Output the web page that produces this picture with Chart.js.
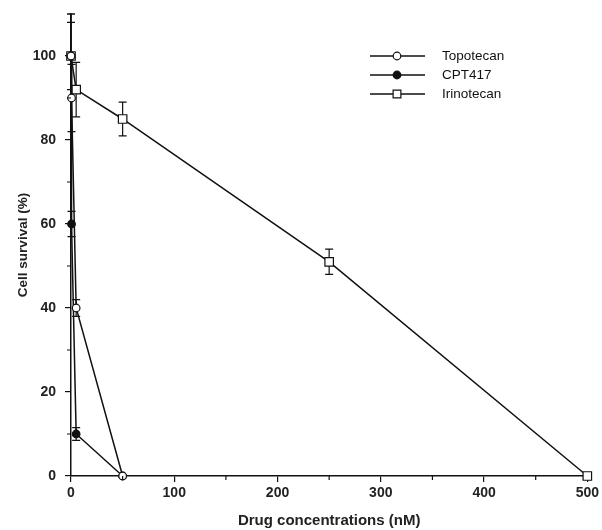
<!DOCTYPE html>
<html>
<head>
<meta charset="utf-8">
<script src="https://cdn.jsdelivr.net/npm/chart.js@4.4.1/dist/chart.umd.min.js"></script>
<style>
  html, body { margin: 0; padding: 0; background: #fff; }
  #wrap { width: 602px; height: 530px; }
</style>
</head>
<body>
<div id="wrap"><canvas id="chart" width="602" height="530"></canvas></div>
<script>
const seriesNames = ['Topotecan', 'CPT417', 'Irinotecan'];

const topoDose = [0, 0.5, 5, 50];
const topoSurvival = [100, 90, 40, 0];
const topoErr = [8, 8, 2, 0];

const cptDose = [0, 0.5, 5, 50];
const cptSurvival = [100, 60, 10, 0];
const cptErr = [10, 3, 1.5, 0];

const iriDose = [0, 5, 50, 250, 500];
const iriSurvival = [100, 92, 85, 51, 0];
const iriErr = [10, 6.5, 4, 3, 0];

const xTicks = [0, 100, 200, 300, 400, 500];
const yTicks = [0, 20, 40, 60, 80, 100];

const ink = '#111';
const fontFamily = '"Liberation Sans", Arial, sans-serif';

function pts(xs, ys) {
  return xs.map((x, i) => ({ x: x, y: ys[i] }));
}

// vertical error bars with small caps, drawn under the markers
const errorBars = {
  id: 'errorBars',
  beforeDatasetsDraw(chart) {
    const ctx = chart.ctx;
    const xs = chart.scales.x, ys = chart.scales.y;
    ctx.save();
    ctx.strokeStyle = ink;
    ctx.lineWidth = 1.2;
    chart.data.datasets.forEach(ds => {
      ds.data.forEach((p, i) => {
        const e = ds.errors[i];
        if (!e) return;
        const px = xs.getPixelForValue(p.x);
        const top = ys.getPixelForValue(p.y + e);
        const bot = ys.getPixelForValue(p.y - e);
        ctx.beginPath();
        ctx.moveTo(px, top); ctx.lineTo(px, bot);
        ctx.moveTo(px - 4, top); ctx.lineTo(px + 4, top);
        ctx.moveTo(px - 4, bot); ctx.lineTo(px + 4, bot);
        ctx.stroke();
      });
    });
    ctx.restore();
  }
};

// shorter minor ticks between the labelled ones
const minorTicks = {
  id: 'minorTicks',
  afterDraw(chart) {
    const ctx = chart.ctx;
    const xs = chart.scales.x, ys = chart.scales.y;
    const area = chart.chartArea;
    ctx.save();
    ctx.strokeStyle = ink;
    ctx.lineWidth = 1.2;
    ctx.beginPath();
    for (let v = 50; v < 500; v += 100) {
      const px = xs.getPixelForValue(v);
      ctx.moveTo(px, area.bottom); ctx.lineTo(px, area.bottom + 4);
    }
    for (let v = 10; v < 110; v += 20) {
      const py = ys.getPixelForValue(v);
      ctx.moveTo(area.left, py); ctx.lineTo(area.left - 4, py);
    }
    ctx.stroke();
    ctx.restore();
  }
};

// legend: a short line with the marker in its middle
const lineLegend = {
  id: 'lineLegend',
  afterDraw(chart) {
    const ctx = chart.ctx;
    ctx.save();
    chart.data.datasets.forEach((ds, i) => {
      const y = 56 + i * 19;
      ctx.strokeStyle = ink;
      ctx.lineWidth = 1.5;
      ctx.beginPath();
      ctx.moveTo(370, y); ctx.lineTo(425, y);
      ctx.stroke();
      ctx.fillStyle = ds.pointBackgroundColor;
      ctx.lineWidth = 1.2;
      Chart.helpers.drawPoint(ctx, {
        pointStyle: ds.pointStyle,
        radius: ds.pointStyle === 'rect' ? 5.5 : 3.8,
        borderWidth: 1.2
      }, 397, y);
      ctx.fillStyle = ink;
      ctx.font = '13.5px ' + fontFamily;
      ctx.textBaseline = 'middle';
      ctx.fillText(ds.label, 442, y);
    });
    ctx.restore();
  }
};

const common = {
  showLine: true,
  borderColor: ink,
  borderWidth: 1.5,
  pointBorderColor: ink,
  pointBorderWidth: 1.2,
  clip: false
};

new Chart(document.getElementById('chart'), {
  type: 'scatter',
  data: {
    datasets: [
      Object.assign({}, common, {
        label: seriesNames[0],
        data: pts(topoDose, topoSurvival),
        errors: topoErr,
        pointStyle: 'circle',
        pointRadius: 3.8,
        pointBackgroundColor: '#fff'
      }),
      Object.assign({}, common, {
        label: seriesNames[1],
        data: pts(cptDose, cptSurvival),
        errors: cptErr,
        pointStyle: 'circle',
        pointRadius: 3.8,
        pointBackgroundColor: ink
      }),
      Object.assign({}, common, {
        label: seriesNames[2],
        data: pts(iriDose, iriSurvival),
        errors: iriErr,
        pointStyle: 'rect',
        pointRadius: 6,
        pointBackgroundColor: '#fff'
      })
    ]
  },
  options: {
    responsive: false,
    animation: false,
    layout: { padding: { top: 14, right: 12, left: 0, bottom: 0 } },
    plugins: {
      legend: { display: false },
      tooltip: { enabled: false }
    },
    scales: {
      x: {
        type: 'linear',
        min: 0,
        max: 500,
        afterBuildTicks: s => { s.ticks = xTicks.map(v => ({ value: v })); },
        afterFit: s => { s.height = 54; },
        border: { color: ink, width: 1.5 },
        grid: { drawOnChartArea: false, color: ink, tickLength: 6, lineWidth: 1.2 },
        ticks: {
          color: '#222',
          padding: 3,
          maxRotation: 0,
          font: { family: fontFamily, size: 14, weight: 'bold' }
        },
        title: {
          display: true,
          text: 'Drug concentrations (nM)',
          color: '#222',
          padding: { top: 0, bottom: 0 },
          font: { family: fontFamily, size: 15, weight: 'bold' }
        }
      },
      y: {
        type: 'linear',
        min: 0,
        max: 110,
        afterBuildTicks: s => { s.ticks = yTicks.map(v => ({ value: v })); },
        afterFit: s => { s.width = 71; s.paddingTop = 0; s.paddingBottom = 0; },
        border: { color: ink, width: 1.5 },
        grid: { drawOnChartArea: false, color: ink, tickLength: 6, lineWidth: 1.2 },
        ticks: {
          color: '#222',
          padding: 9,
          font: { family: fontFamily, size: 14, weight: 'bold' }
        },
        title: {
          display: true,
          text: 'Cell survival (%)',
          color: '#222',
          padding: { top: 15, bottom: 0 },
          font: { family: fontFamily, size: 13.5, weight: 'bold' }
        }
      }
    }
  },
  plugins: [errorBars, minorTicks, lineLegend]
});
</script>
</body>
</html>
